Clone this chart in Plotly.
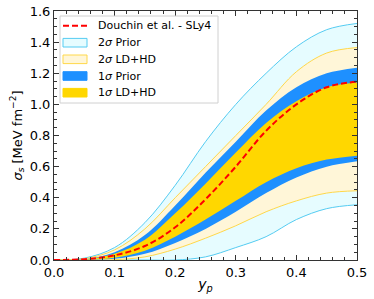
import plotly.graph_objects as go

# ---- data ----
yp = [0.0, 0.05, 0.1, 0.15, 0.2, 0.25, 0.3, 0.35, 0.4, 0.45, 0.5]

prior2_up = [0.0, 0.012, 0.08, 0.24, 0.48, 0.76, 1.00, 1.20, 1.37, 1.48, 1.52]
prior2_lo = [0.0, 0.0, 0.0, 0.0, 0.0, 0.02, 0.08, 0.15, 0.26, 0.33, 0.355]

ldhd2_up = [0.0, 0.008, 0.065, 0.2, 0.40, 0.60, 0.80, 1.00, 1.21, 1.33, 1.365]
ldhd2_lo = [0.0, 0.0, 0.002, 0.02, 0.07, 0.14, 0.22, 0.31, 0.38, 0.43, 0.445]

prior1_up = [0.0, 0.005, 0.05, 0.16, 0.35, 0.56, 0.76, 0.96, 1.11, 1.20, 1.236]
prior1_lo = [0.0, 0.001, 0.008, 0.04, 0.11, 0.20, 0.31, 0.43, 0.53, 0.60, 0.635]

ldhd1_up = [0.0, 0.004, 0.04, 0.13, 0.30, 0.49, 0.69, 0.88, 1.02, 1.11, 1.14]
ldhd1_lo = [0.0, 0.002, 0.015, 0.06, 0.15, 0.26, 0.38, 0.50, 0.59, 0.645, 0.67]

douchin = [0.0, 0.005, 0.03, 0.09, 0.21, 0.39, 0.60, 0.83, 1.00, 1.11, 1.146]

x_ticks = [0.0, 0.1, 0.2, 0.3, 0.4, 0.5]
y_ticks = [0.0, 0.2, 0.4, 0.6, 0.8, 1.0, 1.2, 1.4, 1.6]

legend_labels = ["Douchin et al. - SLy4", "2<i>σ</i> Prior", "2<i>σ</i> LD+HD",
                 "1<i>σ</i> Prior", "1<i>σ</i> LD+HD"]

FONT = "DejaVu Sans"

# styles
C_P2_FILL, C_P2_LINE = "#e6fcff", "#55ccf2"
C_L2_FILL, C_L2_LINE = "#fff6d8", "#ffd84a"
C_P1 = "#1e90ff"
C_L1 = "#ffd700"
C_RED = "#ff0000"

fig = go.Figure()


def band(lo, up, fillcolor, linecolor, linewidth):
    fig.add_trace(go.Scatter(
        x=yp, y=lo, mode="lines", line=dict(color=linecolor, width=linewidth, shape="spline"),
        showlegend=False, hoverinfo="skip"))
    fig.add_trace(go.Scatter(
        x=yp, y=up, mode="lines", fill="tonexty", fillcolor=fillcolor,
        line=dict(color=linecolor, width=linewidth, shape="spline"),
        showlegend=False, hoverinfo="skip"))


band(prior2_lo, prior2_up, C_P2_FILL, C_P2_LINE, 1)
band(ldhd2_lo, ldhd2_up, C_L2_FILL, C_L2_LINE, 1)
band(prior1_lo, prior1_up, C_P1, "rgba(30,144,255,0)", 0)
band(ldhd1_lo, ldhd1_up, C_L1, "rgba(255,215,0,0)", 0)

fig.add_trace(go.Scatter(
    x=yp, y=douchin, mode="lines", showlegend=False,
    line=dict(color=C_RED, width=2, dash="6px,3px", shape="spline")))

axis_common = dict(
    showline=True, linecolor="#333333", linewidth=1, mirror="ticks",
    ticks="inside", ticklen=5, tickwidth=1, tickcolor="#333333",
    showgrid=False, zeroline=False,
    tickfont=dict(family=FONT, size=13, color="black"),
)

fig.update_xaxes(
    range=[0, 0.5], tickvals=x_ticks, ticktext=[f"{v:.1f}" for v in x_ticks],
    minor=dict(ticks="inside", dtick=0.02, ticklen=3, tickcolor="#333333"),
    title=dict(text="<i>y<sub>p</sub></i>", font=dict(family=FONT, size=14, color="black"), standoff=0),
    **axis_common)
fig.update_yaxes(
    range=[0, 1.6], tickvals=y_ticks, ticktext=[f"{v:.1f}" for v in y_ticks],
    minor=dict(ticks="inside", dtick=0.05, ticklen=3, tickcolor="#333333"),
    title=dict(text="<i>σ<sub>s</sub></i> [MeV fm<sup>−2</sup>]", font=dict(family=FONT, size=13, color="black"), standoff=4),
    **axis_common)

# ---- hand-drawn legend (matplotlib style) in paper coordinates ----
L, R, T, B = 54, 357, 11, 260          # plot-area pixel box
W, H = R - L, B - T


def px(xp):
    return (xp - L) / W


def py(yp_):
    return (B - yp_) / H


shapes = [dict(type="rect", xref="paper", yref="paper",
               x0=px(60), x1=px(218), y0=py(103), y1=py(16),
               line=dict(color="#d0d0d0", width=1), fillcolor="white", layer="above")]
rows = [25.7, 42.7, 59.3, 76.0, 92.7]
sym_x0, sym_x1, half = px(63), px(87), 4.3 / H
shapes.append(dict(type="line", xref="paper", yref="paper",
                   x0=sym_x0, x1=sym_x1, y0=py(rows[0]), y1=py(rows[0]),
                   line=dict(color=C_RED, width=2, dash="6px,3px"), layer="above"))
for r, fc, lc in zip(rows[1:], [C_P2_FILL, C_L2_FILL, C_P1, C_L1],
                     [C_P2_LINE, C_L2_LINE, C_P1, C_L1]):
    shapes.append(dict(type="rect", xref="paper", yref="paper",
                       x0=sym_x0, x1=sym_x1, y0=py(r) - half, y1=py(r) + half,
                       fillcolor=fc, line=dict(color=lc, width=1), layer="above"))

annotations = [dict(text=t, xref="paper", yref="paper", x=px(96), y=py(r),
                    xanchor="left", yanchor="middle", showarrow=False,
                    font=dict(family=FONT, size=11, color="black"))
               for t, r in zip(legend_labels, rows)]

fig.update_layout(
    width=374, height=299,
    margin=dict(l=54, r=17, t=11, b=39, autoexpand=False),
    plot_bgcolor="white", paper_bgcolor="white",
    font=dict(family=FONT, color="black"),
    showlegend=False,
    shapes=shapes, annotations=annotations,
)

fig.write_html("out.html", config={"displayModeBar": False},
               post_script="document.body.style.margin='0';")
